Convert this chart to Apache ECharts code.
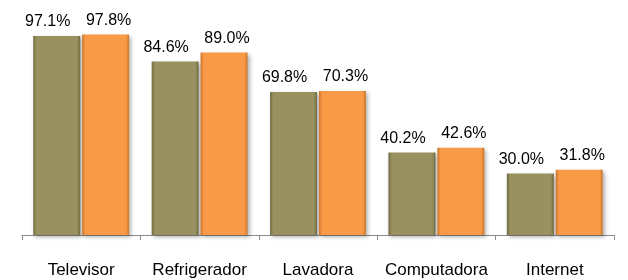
<!DOCTYPE html>
<html>
<head>
<meta charset="utf-8">
<script src="https://cdn.jsdelivr.net/npm/echarts@6/dist/echarts.min.js"></script>
<style>
  html, body { margin: 0; padding: 0; background: #fff; }
  #chart { width: 628px; height: 280px; }
</style>
</head>
<body>
<div id="chart"></div>
<script>
const categories = ['Televisor', 'Refrigerador', 'Lavadora', 'Computadora', 'Internet']
const seriesA = [97.1, 84.6, 69.8, 40.2, 30.0]
const seriesB = [97.8, 89.0, 70.3, 42.6, 31.8]

// horizontal gradient gives the bevelled look of the original bars
function barFill(edge, main) {
  return new echarts.graphic.LinearGradient(0, 0, 1, 0, [
    { offset: 0, color: edge },
    { offset: 0.07, color: main },
    { offset: 0.93, color: main },
    { offset: 1, color: edge }
  ])
}

const labelStyle = {
  show: true,
  position: 'top',
  distance: 6,
  fontFamily: 'Liberation Sans, Arial, sans-serif',
  fontSize: 16,
  color: '#000',
  formatter: p => p.value.toFixed(1) + '%'
}

const chart = echarts.init(document.getElementById('chart'))
chart.setOption({
  animation: false,
  grid: { left: 22, right: 14, top: 30, bottom: 45 },
  xAxis: {
    type: 'category',
    data: categories,
    axisLine: { lineStyle: { color: '#8c8c8c', width: 1 } },
    axisTick: { show: true, length: 5, lineStyle: { color: '#8c8c8c' } },
    axisLabel: {
      interval: 0,
      margin: 27,
      fontFamily: 'Liberation Sans, Arial, sans-serif',
      fontSize: 17,
      color: '#000'
    }
  },
  yAxis: {
    type: 'value',
    min: 0,
    max: 100,
    show: false,
    splitLine: { show: false }
  },
  series: [
    {
      type: 'bar',
      data: seriesA,
      barWidth: 47,
      barGap: '4%',
      itemStyle: {
        color: barFill('#6f6a40', '#9a9160'),
        shadowColor: 'rgba(0,0,0,0.3)',
        shadowBlur: 4,
        shadowOffsetX: 2,
        shadowOffsetY: 2
      },
      label: { ...labelStyle, offset: [-9, 0] }
    },
    {
      type: 'bar',
      data: seriesB,
      barWidth: 47,
      itemStyle: {
        color: barFill('#c9772f', '#f99a47'),
        shadowColor: 'rgba(0,0,0,0.3)',
        shadowBlur: 4,
        shadowOffsetX: 2,
        shadowOffsetY: 2
      },
      label: { ...labelStyle, offset: [3, 0] }
    }
  ]
})
</script>
</body>
</html>
